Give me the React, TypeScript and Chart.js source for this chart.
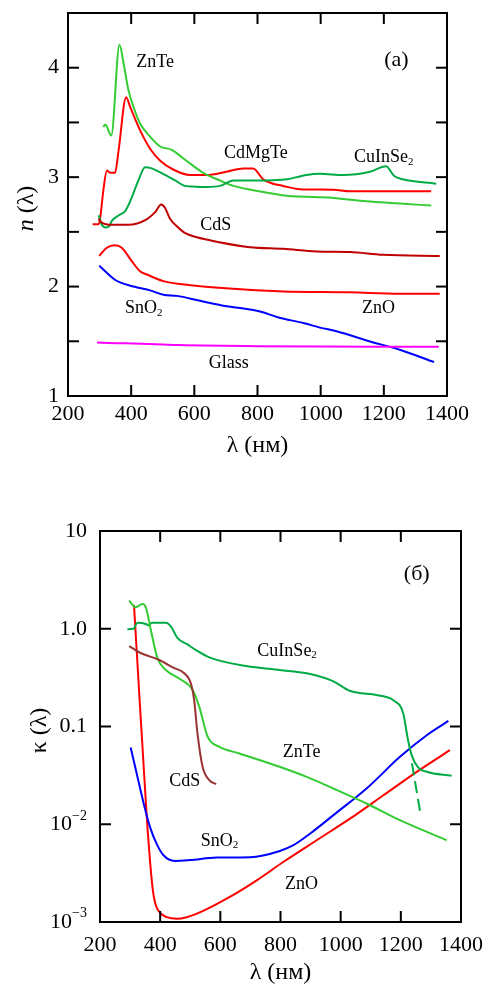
import React, { useEffect, useRef } from "react";
import { Chart, registerables } from "chart.js";
Chart.register(...registerables);

const SERIF = '"Liberation Serif", "Times New Roman", Times, serif';

// ---------------- Panel (a): n(λ) ----------------
const xTickValues = [200, 400, 600, 800, 1000, 1200, 1400];
const nLabelled = [1, 2, 3, 4];

const wlA_ZnTe = [312, 318, 337, 363, 376, 391, 410, 428, 460, 492, 528, 575, 628, 681, 724, 787, 892, 1040, 1145, 1250, 1350];
const nA_ZnTe = [3.46, 3.48, 3.38, 4.21, 4.04, 3.8, 3.62, 3.49, 3.37, 3.28, 3.25, 3.15, 3.04, 2.97, 2.92, 2.88, 2.83, 2.81, 2.78, 2.76, 2.74];

const wlA_CdMgTe = [278, 297, 302, 312, 323, 334, 349, 360, 384, 397, 428, 460, 492, 533, 586, 639, 702, 755, 786, 818, 849, 881, 934, 1040, 1092, 1350];
const nA_CdMgTe = [2.57, 2.57, 2.63, 2.88, 3.06, 3.04, 3.04, 3.24, 3.73, 3.64, 3.43, 3.26, 3.15, 3.07, 3.02, 3.02, 3.05, 3.08, 3.08, 2.98, 2.94, 2.92, 2.89, 2.885, 2.87, 2.87];

const wlA_CuInSe2 = [297, 307, 320, 330, 339, 360, 381, 397, 423, 444, 465, 507, 539, 570, 592, 639, 681, 724, 829, 892, 955, 998, 1071, 1156, 1207, 1233, 1260, 1366];
const nA_CuInSe2 = [2.65, 2.565, 2.54, 2.55, 2.6, 2.65, 2.69, 2.78, 2.97, 3.09, 3.08, 3.02, 2.97, 2.92, 2.915, 2.91, 2.92, 2.97, 2.97, 2.98, 3.02, 3.03, 3.02, 3.05, 3.1, 3.01, 2.98, 2.94];

const wlA_CdS = [297, 307, 339, 391, 449, 476, 495, 507, 523, 549, 570, 608, 671, 776, 882, 987, 1092, 1197, 1377];
const nA_CdS = [2.62, 2.585, 2.565, 2.565, 2.615, 2.68, 2.75, 2.72, 2.62, 2.54, 2.49, 2.45, 2.41, 2.36, 2.345, 2.32, 2.315, 2.29, 2.28];

const wlA_ZnO = [299, 323, 349, 370, 402, 428, 450, 502, 597, 724, 882, 1092, 1250, 1377];
const nA_ZnO = [2.28, 2.355, 2.377, 2.355, 2.232, 2.14, 2.11, 2.05, 2.01, 1.98, 1.955, 1.947, 1.935, 1.935];

const wlA_SnO2 = [299, 350, 408, 460, 502, 545, 618, 703, 756, 811, 864, 948, 998, 1053, 1148, 1253, 1359];
const nA_SnO2 = [2.19, 2.06, 2.0, 1.965, 1.925, 1.915, 1.87, 1.82, 1.8, 1.77, 1.72, 1.665, 1.625, 1.59, 1.505, 1.42, 1.31];

const wlA_Glass = [292, 550, 800, 1374];
const nA_Glass = [1.49, 1.465, 1.455, 1.45];

// ---------------- Panel (б): κ(λ) ----------------
const kTickValues = [0.001, 0.01, 0.1, 1, 10];

const wlB_CuInSe2 = [291, 311, 324, 352, 362, 372, 419, 436, 458, 488, 519, 563, 686, 797, 887, 976, 1030, 1119, 1152, 1175, 1208, 1224, 1236, 1258, 1286, 1369];
const kB_CuInSe2 = [0.99, 1.0, 1.15, 1.12, 1.08, 1.15, 1.15, 1.05, 0.8, 0.7, 0.605, 0.51, 0.415, 0.378, 0.35, 0.29, 0.232, 0.21, 0.2, 0.186, 0.136, 0.0724, 0.051, 0.038, 0.0344, 0.0313];

const wlB_CuInSe2Dash = [1237, 1266];
const kB_CuInSe2Dash = [0.0419, 0.0124];

const wlB_ZnTe = [297, 319, 341, 352, 369, 391, 419, 463, 508, 530, 558, 597, 663, 797, 887, 976, 1086, 1197, 1352];
const kB_ZnTe = [1.94, 1.66, 1.79, 1.67, 0.97, 0.5, 0.378, 0.31, 0.236, 0.159, 0.0785, 0.062, 0.053, 0.0387, 0.0305, 0.0232, 0.0163, 0.011, 0.00686];

const wlB_CdS = [297, 333, 397, 444, 480, 502, 513, 524, 541, 563, 586];
const kB_CdS = [0.665, 0.568, 0.479, 0.4, 0.35, 0.276, 0.186, 0.085, 0.0387, 0.0283, 0.0257];

const wlB_ZnO = [313, 333, 352, 358, 366, 375, 385, 400, 422, 455, 488, 543, 621, 721, 809, 920, 1031, 1142, 1253, 1363];
const kB_ZnO = [1.75, 0.16, 0.0177, 0.009, 0.0043, 0.0022, 0.0015, 0.00124, 0.00112, 0.00108, 0.00112, 0.0013, 0.00173, 0.00267, 0.00411, 0.00686, 0.0114, 0.0198, 0.0344, 0.0573];

const wlB_SnO2 = [302, 322, 344, 366, 388, 411, 449, 499, 588, 699, 798, 843, 898, 976, 1086, 1197, 1286, 1358];
const kB_SnO2 = [0.061, 0.033, 0.0169, 0.0094, 0.00634, 0.00482, 0.00422, 0.0043, 0.00456, 0.0046, 0.00533, 0.0061, 0.008, 0.0124, 0.0232, 0.0489, 0.0815, 0.114];

// ---------------- colours ----------------
const RED = "#ff0000";
const DARKRED = "#c00000";
const BROWN = "#993333";
const LIGHTGREEN = "#33cc33";
const GREEN = "#00aa44";
const BLUE = "#0000ff";
const MAGENTA = "#ff00ff";

type Part = { t: string; sub?: boolean; sup?: boolean; italic?: boolean };
type Ann = { parts: Part[]; x: number; y: number; size?: number };

const zip = (xs: number[], ys: number[]) => xs.map((x, i) => ({ x, y: ys[i] }));

function fontFor(p: Part, size: number) {
  const s = p.sub || p.sup ? Math.round(size * 0.62) : size;
  return `${p.italic ? "italic " : ""}${s}px ${SERIF}`;
}

function drawParts(ctx: CanvasRenderingContext2D, parts: Part[], x: number, y: number, size: number, align: "left" | "center" | "right" = "center") {
  ctx.save();
  ctx.fillStyle = "#000";
  ctx.textBaseline = "middle";
  ctx.textAlign = "left";
  const widths = parts.map((p) => {
    ctx.font = fontFor(p, size);
    return ctx.measureText(p.t).width;
  });
  const total = widths.reduce((a, b) => a + b, 0);
  let cx = align === "center" ? x - total / 2 : align === "right" ? x - total : x;
  parts.forEach((p, i) => {
    ctx.font = fontFor(p, size);
    const dy = p.sub ? size * 0.24 : p.sup ? -size * 0.38 : 0;
    ctx.fillText(p.t, cx, y + dy);
    cx += widths[i];
  });
  ctx.restore();
}

function line(ctx: CanvasRenderingContext2D, x1: number, y1: number, x2: number, y2: number) {
  ctx.beginPath();
  ctx.moveTo(x1, y1);
  ctx.lineTo(x2, y2);
  ctx.stroke();
}

function makeDecor(cfg: {
  id: string;
  yTitle: Part[];
  yTitleX: number;
  xTitleY: number;
  labels: Ann[];
  yLabels?: { v: number; parts: Part[] }[];
  yLabelRight?: number;
}) {
  return {
    id: cfg.id,
    afterDraw(chart: any) {
      const { ctx, chartArea: a, scales } = chart;
      const xs = scales.x;
      const ys = scales.y;
      ctx.save();
      ctx.strokeStyle = "#000";
      ctx.lineWidth = 2;
      ctx.strokeRect(a.left, a.top, a.right - a.left, a.bottom - a.top);
      const tl = 11;
      for (const t of xs.ticks) {
        const px = xs.getPixelForValue(t.value);
        if (px <= a.left + 1 || px >= a.right - 1) continue;
        line(ctx, px, a.bottom, px, a.bottom - tl);
        line(ctx, px, a.top, px, a.top + tl);
      }
      for (const t of ys.ticks) {
        const py = ys.getPixelForValue(t.value);
        if (py <= a.top + 1 || py >= a.bottom - 1) continue;
        line(ctx, a.left, py, a.left + tl, py);
        line(ctx, a.right, py, a.right - tl, py);
      }
      ctx.restore();

      if (cfg.yLabels) {
        for (const yl of cfg.yLabels) {
          drawParts(ctx, yl.parts, cfg.yLabelRight || a.left - 12, ys.getPixelForValue(yl.v), 22, "right");
        }
      }

      // annotations in data coordinates
      for (const l of cfg.labels) {
        drawParts(ctx, l.parts, xs.getPixelForValue(l.x), ys.getPixelForValue(l.y), l.size || 18, "center");
      }

      // axis titles
      drawParts(ctx, [{ t: "λ (нм)" }], (a.left + a.right) / 2, cfg.xTitleY, 24, "center");
      ctx.save();
      ctx.translate(cfg.yTitleX, (a.top + a.bottom) / 2 + 4);
      ctx.rotate(-Math.PI / 2);
      drawParts(ctx, cfg.yTitle, 0, 0, 24, "center");
      ctx.restore();
    },
  };
}

function ds(label: string, xs: number[], ys: number[], color: string, dash?: number[]) {
  return {
    label,
    data: zip(xs, ys),
    borderColor: color,
    backgroundColor: color,
    borderWidth: 2,
    pointRadius: 0,
    fill: false,
    cubicInterpolationMode: "monotone" as const,
    borderDash: dash || [],
  };
}

const tickFont = { family: SERIF, size: 22 };

function PanelA() {
  const ref = useRef<HTMLCanvasElement>(null);
  useEffect(() => {
    const decor = makeDecor({
      id: "decorA",
      yTitle: [{ t: "n", italic: true }, { t: " (λ)" }],
      yTitleX: 27,
      xTitleY: 446,
      labels: [
        { parts: [{ t: "ZnTe" }], x: 476, y: 4.05 },
        { parts: [{ t: "CdMgTe" }], x: 795, y: 3.22 },
        { parts: [{ t: "CuInSe" }, { t: "2", sub: true }], x: 1200, y: 3.18 },
        { parts: [{ t: "CdS" }], x: 668, y: 2.56 },
        { parts: [{ t: "SnO" }, { t: "2", sub: true }], x: 440, y: 1.8 },
        { parts: [{ t: "ZnO" }], x: 1183, y: 1.8 },
        { parts: [{ t: "Glass" }], x: 709, y: 1.3 },
        { parts: [{ t: "(a)" }], x: 1240, y: 4.07, size: 22 },
      ],
    });
    const chart = new Chart(ref.current!, {
      type: "line",
      data: {
        datasets: [
          ds("Glass", wlA_Glass, nA_Glass, MAGENTA),
          ds("SnO2", wlA_SnO2, nA_SnO2, BLUE),
          ds("ZnO", wlA_ZnO, nA_ZnO, RED),
          ds("CdS", wlA_CdS, nA_CdS, DARKRED),
          ds("CuInSe2", wlA_CuInSe2, nA_CuInSe2, GREEN),
          ds("ZnTe", wlA_ZnTe, nA_ZnTe, LIGHTGREEN),
          ds("CdMgTe", wlA_CdMgTe, nA_CdMgTe, RED),
        ],
      } as any,
      options: {
        responsive: false,
        animation: false,
        devicePixelRatio: 1,
        layout: { padding: { top: 13, right: 41, left: 0, bottom: 0 } },
        plugins: { legend: { display: false }, tooltip: { enabled: false } },
        scales: {
          x: {
            type: "linear",
            min: 200,
            max: 1400,
            grid: { display: false, drawTicks: false },
            border: { display: false },
            afterBuildTicks: (s: any) => {
              s.ticks = xTickValues.map((v) => ({ value: v }));
            },
            afterFit: (s: any) => {
              s.height = 74;
              s.paddingLeft = 0;
              s.paddingRight = 0;
            },
            ticks: { font: tickFont, color: "#000", padding: 5, maxRotation: 0, autoSkip: false, callback: (v: any) => String(v) },
          },
          y: {
            type: "linear",
            min: 1,
            max: 4.5,
            grid: { display: false, drawTicks: false },
            border: { display: false },
            afterFit: (s: any) => {
              s.width = 68;
              s.paddingTop = 0;
              s.paddingBottom = 0;
            },
            ticks: {
              stepSize: 0.5,
              font: tickFont,
              color: "#000",
              padding: 9,
              autoSkip: false,
              callback: (v: any) => (nLabelled.includes(Number(v)) ? String(v) : ""),
            },
          },
        },
      } as any,
      plugins: [decor],
    });
    return () => chart.destroy();
  }, []);
  return <canvas ref={ref} width={488} height={470} style={{ display: "block", width: 488, height: 470 }} />;
}

function PanelB() {
  const ref = useRef<HTMLCanvasElement>(null);
  useEffect(() => {
    const sup = (e: string): Part[] => [{ t: "10" }, { t: e, sup: true }];
    const decor = makeDecor({
      id: "decorB",
      yTitle: [{ t: "κ (λ)" }],
      yTitleX: 40,
      xTitleY: 503,
      yLabelRight: 87,
      yLabels: [
        { v: kTickValues[4], parts: [{ t: "10" }] },
        { v: kTickValues[3], parts: [{ t: "1.0" }] },
        { v: kTickValues[2], parts: [{ t: "0.1" }] },
        { v: kTickValues[1], parts: sup("−2") },
        { v: kTickValues[0], parts: sup("−3") },
      ],
      labels: [
        { parts: [{ t: "CuInSe" }, { t: "2", sub: true }], x: 822, y: 0.59 },
        { parts: [{ t: "ZnTe" }], x: 870, y: 0.0547 },
        { parts: [{ t: "CdS" }], x: 482, y: 0.0278 },
        { parts: [{ t: "SnO" }, { t: "2", sub: true }], x: 597, y: 0.00675 },
        { parts: [{ t: "ZnO" }], x: 870, y: 0.00244 },
        { parts: [{ t: "(б)" }], x: 1253, y: 3.63, size: 22 },
      ],
    });
    const chart = new Chart(ref.current!, {
      type: "line",
      data: {
        datasets: [
          ds("CdS", wlB_CdS, kB_CdS, BROWN),
          ds("ZnTe", wlB_ZnTe, kB_ZnTe, LIGHTGREEN),
          ds("CuInSe2", wlB_CuInSe2, kB_CuInSe2, GREEN),
          ds("CuInSe2 (dashed)", wlB_CuInSe2Dash, kB_CuInSe2Dash, GREEN, [12, 6]),
          ds("SnO2", wlB_SnO2, kB_SnO2, BLUE),
          ds("ZnO", wlB_ZnO, kB_ZnO, RED),
        ],
      } as any,
      options: {
        responsive: false,
        animation: false,
        devicePixelRatio: 1,
        layout: { padding: { top: 61, right: 27, left: 0, bottom: 0 } },
        plugins: { legend: { display: false }, tooltip: { enabled: false } },
        scales: {
          x: {
            type: "linear",
            min: 200,
            max: 1400,
            grid: { display: false, drawTicks: false },
            border: { display: false },
            afterBuildTicks: (s: any) => {
              s.ticks = xTickValues.map((v) => ({ value: v }));
            },
            afterFit: (s: any) => {
              s.height = 62;
              s.paddingLeft = 0;
              s.paddingRight = 0;
            },
            ticks: { font: tickFont, color: "#000", padding: 10, maxRotation: 0, autoSkip: false, callback: (v: any) => String(v) },
          },
          y: {
            type: "logarithmic",
            min: 0.001,
            max: 10,
            grid: { display: false, drawTicks: false },
            border: { display: false },
            afterBuildTicks: (s: any) => {
              s.ticks = kTickValues.map((v) => ({ value: v }));
            },
            afterFit: (s: any) => {
              s.width = 100;
              s.paddingTop = 0;
              s.paddingBottom = 0;
            },
            ticks: { display: false },
          },
        },
      } as any,
      plugins: [decor],
    });
    return () => chart.destroy();
  }, []);
  return <canvas ref={ref} width={488} height={514} style={{ display: "block", width: 488, height: 514 }} />;
}

export default function App() {
  return (
    <div style={{ position: "absolute", left: 0, top: 0, width: 488, height: 984, background: "#fff" }}>
      <PanelA />
      <PanelB />
    </div>
  );
}
